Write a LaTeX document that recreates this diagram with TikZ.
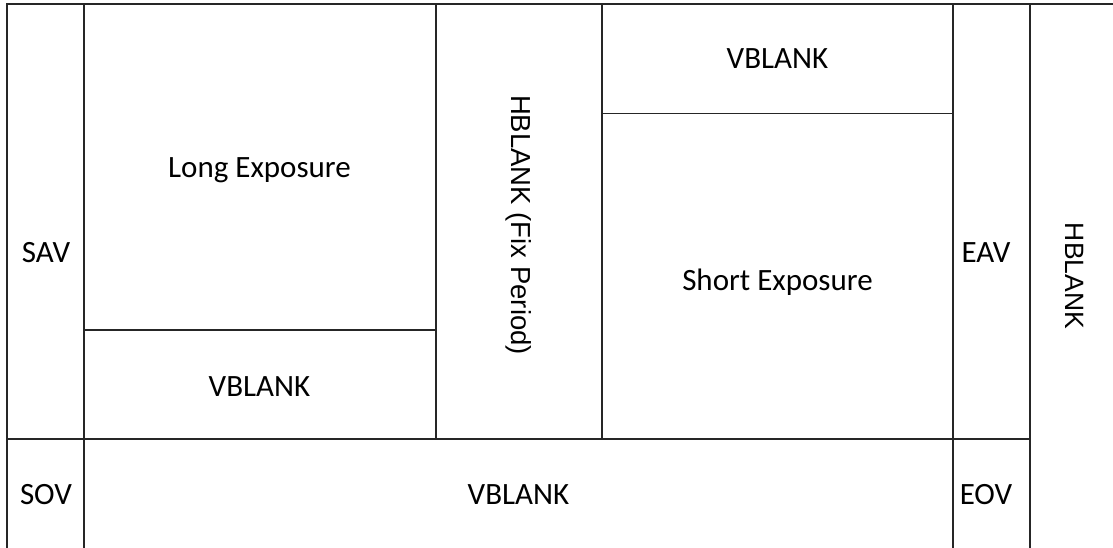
\documentclass[tikz,border=0pt]{standalone}
\usepackage{fontspec}
\setmainfont{Carlito}
\newfontfamily\arialfont{Liberation Sans}
\begin{document}
\begin{tikzpicture}[x=1pt,y=-1pt,
  grid/.style={line width=1.7pt,draw=black!85,line cap=rect},
  lbl/.style={anchor=base,inner sep=0pt,font=\fontsize{31}{36}\selectfont},
  vlbl/.style={anchor=center,inner sep=0pt,rotate=-90,font=\arialfont\fontsize{27.5}{30}\selectfont}]
\useasboundingbox[fill=white] (0,0) rectangle (1113,547);

% frame lines
\draw[grid] (7,4) -- (1113,4);
\draw[grid] (7,4) -- (7,547);
\draw[grid] (84,4) -- (84,547);
\draw[grid] (436,4) -- (436,439);
\draw[grid] (602,4) -- (602,439);
\draw[grid] (953,4) -- (953,547);
\draw[grid] (1030,4) -- (1030,547);
\draw[grid] (7,439) -- (1030,439);
\draw[grid] (84,330) -- (436,330);
\draw[grid] (602,113.5) -- (953,113.5);

% labels
\node[lbl] (sav) at (46,262) {SAV};
\node[lbl] (long) at (259.5,177) {Long Exposure};
\node[lbl] (vbl1) at (259.5,396) {VBLANK};
\node[vlbl] (hbfix) at (518.5,225) {HBLANK (Fix Period)};
\node[lbl] (vbl2) at (777.5,68) {VBLANK};
\node[lbl] (short) at (777.5,290) {Short Exposure};
\node[lbl] (eav) at (986,262) {EAV};
\node[vlbl,font=\arialfont\fontsize{26.5}{30}\selectfont] (hbr) at (1075,276) {HBLANK};
\node[lbl] (sov) at (46,504) {SOV};
\node[lbl] (vbl3) at (518.5,504) {VBLANK};
\node[lbl] (eov) at (986,504) {EOV};
\end{tikzpicture}
\end{document}
